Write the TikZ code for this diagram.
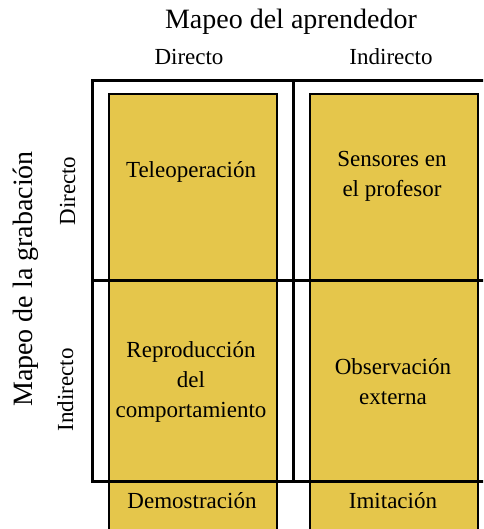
\documentclass[tikz,border=0pt]{standalone}
\usepackage{fontspec}
\setmainfont{Liberation Serif}
\definecolor{boxyellow}{RGB}{229,198,75}
\begin{document}
\begin{tikzpicture}[x=1pt,y=-1pt,
  big/.style={font=\fontsize{28}{34}\selectfont, inner sep=0pt},
  lbl/.style={font=\fontsize{23}{29}\selectfont, inner sep=0pt},
  boxtxt/.style={font=\fontsize{23}{30}\selectfont, inner sep=0pt, align=center},
  ybox/.style={fill=boxyellow, draw=black, line width=2.6pt},
  frame/.style={draw=black, line width=3pt}]
\useasboundingbox (0,0) rectangle (483,529);
\begin{scope}
\clip (0,0) rectangle (483,529);
\path[ybox] (109,94) rectangle (277,540);
\path[ybox] (310,94) rectangle (478,540);
\draw[frame] (92,81) rectangle (495,481);
\draw[frame] (293,81) -- (293,481);
\draw[frame] (92,280) -- (495,280);
\end{scope}
% titles
\node[big, anchor=base] (ttop) at (291,28.5) {Mapeo del aprendedor};
\node[big, anchor=base, rotate=90] (tleft) at (32,279) {Mapeo de la grabación};
% column labels
\node[lbl, anchor=base] (cdir) at (189,65) {Directo};
\node[lbl, anchor=base] (cind) at (391,65) {Indirecto};
% row labels
\node[lbl, anchor=base, rotate=90] (rdir) at (75,191) {Directo};
\node[lbl, anchor=base, rotate=90] (rind) at (73,390) {Indirecto};
% cell texts
\node[boxtxt, anchor=base] (tele) at (191,178) {Teleoperación};
\node[boxtxt] (sens) at (392,176) {Sensores en\\el profesor};
\node[boxtxt] (repro) at (191,381.5) {Reproducción\\del\\comportamiento};
\node[boxtxt] (obs) at (393,381.5) {Observación\\externa};
\node[boxtxt, anchor=base] (demo) at (192,508) {Demostración};
\node[boxtxt, anchor=base] (imit) at (393,508) {Imitación};
\end{tikzpicture}
\end{document}
